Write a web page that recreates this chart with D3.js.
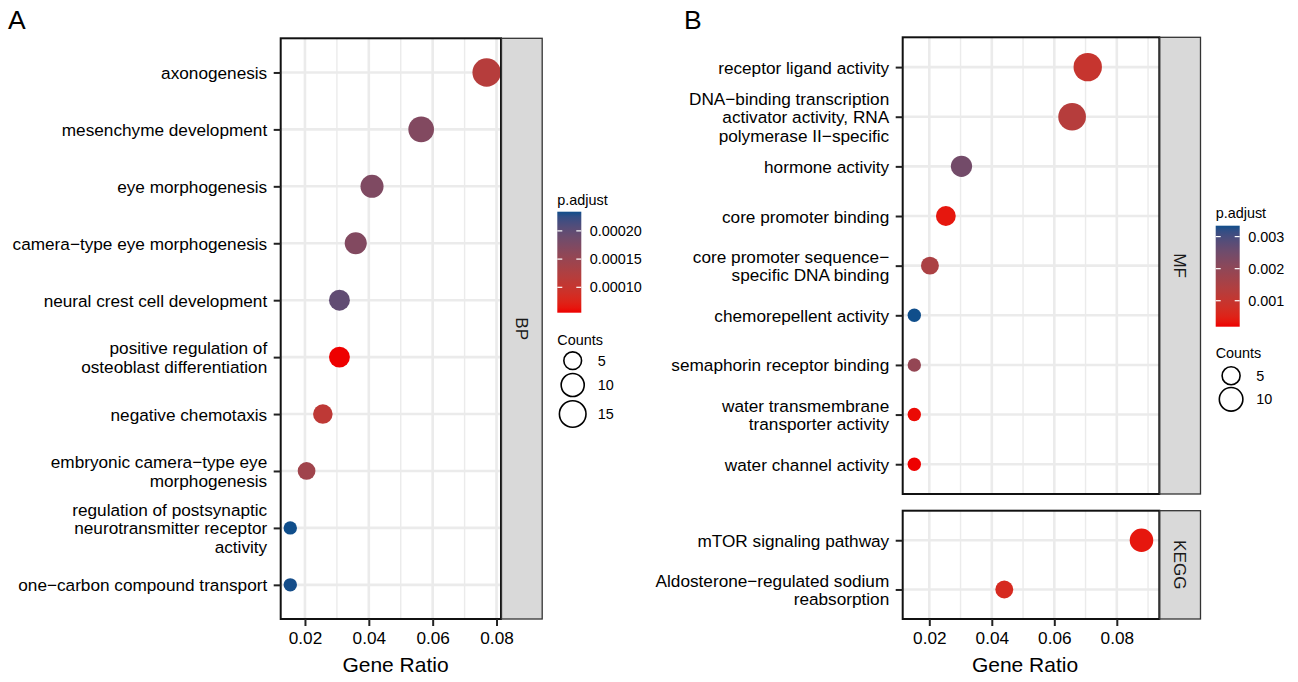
<!DOCTYPE html>
<html>
<head>
<meta charset="utf-8">
<script src="https://cdn.jsdelivr.net/npm/d3@7"></script>
<style>
  html, body { margin: 0; padding: 0; background: #fff; }
  svg { display: block; font-family: "Liberation Sans", Arial, Helvetica, sans-serif; }
</style>
</head>
<body>
<svg id="chart" width="1298" height="682"></svg>
<script>
// ---------------- DATA ----------------
const bpTerms = [
  "axonogenesis",
  "mesenchyme development",
  "eye morphogenesis",
  "camera\u2212type eye morphogenesis",
  "neural crest cell development",
  "positive regulation of\nosteoblast differentiation",
  "negative chemotaxis",
  "embryonic camera\u2212type eye\nmorphogenesis",
  "regulation of postsynaptic\nneurotransmitter receptor\nactivity",
  "one\u2212carbon compound transport"
];
const bpRatio  = [0.0769, 0.0564, 0.0410, 0.0359, 0.0308, 0.0308, 0.0256, 0.0205, 0.0154, 0.0154];
const bpCount  = [15, 11, 8, 7, 6, 6, 5, 4, 3, 3];
const bpPadj   = [0.000118, 0.000171, 0.000173, 0.000171, 0.000198, 0.000055, 0.000109, 0.000141, 0.000234, 0.000233];

const mfTerms = [
  "receptor ligand activity",
  "DNA\u2212binding transcription\nactivator activity, RNA\npolymerase II\u2212specific",
  "hormone activity",
  "core promoter binding",
  "core promoter sequence\u2212\nspecific DNA binding",
  "chemorepellent activity",
  "semaphorin receptor binding",
  "water transmembrane\ntransporter activity",
  "water channel activity"
];
const mfRatio = [0.0707, 0.0657, 0.0303, 0.0253, 0.0202, 0.0152, 0.0152, 0.0152, 0.0152];
const mfCount = [14, 13, 6, 5, 4, 3, 3, 3, 3];
const mfPadj  = [0.00098, 0.00129, 0.00246, 0.00035, 0.00151, 0.00334, 0.00192, 0.00025, 0.00019];

const keggTerms = [
  "mTOR signaling pathway",
  "Aldosterone\u2212regulated sodium\nreabsorption"
];
const keggRatio = [0.0879, 0.0440];
const keggCount = [8, 4];
const keggPadj  = [0.00035, 0.00066];

const xTicks = [0.02, 0.04, 0.06, 0.08];
const xMinorA = [0.03, 0.05, 0.07];
const xMinorB = [0.03, 0.05, 0.07, 0.09];
const legendPadjTicksA = [0.00010, 0.00015, 0.00020];
const legendPadjTicksB = [0.001, 0.002, 0.003];
const legendCountsA = [5, 10, 15];
const legendCountsB = [5, 10];

// ---------------- SETUP ----------------
const svg = d3.select("#chart");
const LOW = "#EE0000", HIGH = "#104E8B";
const GRID = "#ebebeb";
const FS = 17.2, LH = 18.5, LFS = 14.4;

function sizeScale(cmin, cmax) {
  const t = d3.scaleLinear().domain([cmin, cmax]).range([0, 1]);
  const r = d3.scaleLinear().domain([0, 1]).range([6.7, 14.2]);
  return c => r(Math.sqrt(Math.max(0, t(c))));
}

function drawPanel(g, terms, ratio, count, padj, x, y, minor, color, rScale, x0, x1, y0, y1, stripLabel) {
  g.selectAll(".gmin").data(minor.filter(v => x(v) > x0 && x(v) < x1)).join("line")
    .attr("x1", d => x(d)).attr("x2", d => x(d)).attr("y1", y0).attr("y2", y1)
    .attr("stroke", GRID).attr("stroke-width", 1.4);
  g.selectAll(".gmaj").data(xTicks.filter(v => x(v) > x0 && x(v) < x1)).join("line")
    .attr("x1", d => x(d)).attr("x2", d => x(d)).attr("y1", y0).attr("y2", y1)
    .attr("stroke", GRID).attr("stroke-width", 2.6);
  g.selectAll(".gy").data(terms).join("line")
    .attr("x1", x0).attr("x2", x1).attr("y1", d => y(d)).attr("y2", d => y(d))
    .attr("stroke", GRID).attr("stroke-width", 2.6);
  g.selectAll(".pt").data(terms.map((t, i) => ({t, r: ratio[i], c: count[i], p: padj[i]}))).join("circle")
    .attr("cx", d => x(d.r)).attr("cy", d => y(d.t)).attr("r", d => rScale(d.c))
    .attr("fill", d => color(d.p));
  g.append("rect").attr("x", x0).attr("y", y0).attr("width", x1 - x0).attr("height", y1 - y0)
    .attr("fill", "none").attr("stroke", "#111").attr("stroke-width", 2);
  const sw = 40.7;
  g.append("rect").attr("x", x1 + 0.5).attr("y", y0).attr("width", sw).attr("height", y1 - y0)
    .attr("fill", "#d9d9d9").attr("stroke", "#333").attr("stroke-width", 1.3);
  g.append("text").attr("transform", `translate(${x1 + 0.5 + sw / 2},${(y0 + y1) / 2}) rotate(90)`)
    .attr("text-anchor", "middle").attr("dy", "0.35em").attr("font-size", FS).attr("fill", "#1a1a1a")
    .text(stripLabel);
  const ax = g.append("g").attr("transform", `translate(${x0},0)`)
    .call(d3.axisLeft(y).tickSize(7).tickPadding(5));
  ax.select(".domain").remove();
  ax.selectAll(".tick line").attr("stroke", "#222").attr("stroke-width", 2);
  ax.selectAll(".tick text").each(function(d) {
    const el = d3.select(this);
    const lines = d.split("\n");
    el.text(null).attr("font-size", FS).attr("fill", "#000").attr("font-family", null).attr("dy", null);
    lines.forEach((ln, i) => {
      el.append("tspan").attr("x", -13.5).attr("y", (i - (lines.length - 1) / 2) * LH)
        .attr("dy", "0.35em").text(ln);
    });
  });
}

function drawXAxis(g, x, y1, titleX) {
  const ax = g.append("g").attr("transform", `translate(0,${y1})`)
    .call(d3.axisBottom(x).tickValues(xTicks).tickFormat(d3.format(".2f")).tickSize(7).tickPadding(6));
  ax.select(".domain").remove();
  ax.selectAll(".tick line").attr("stroke", "#222").attr("stroke-width", 2);
  ax.selectAll(".tick text").attr("font-size", FS).attr("fill", "#000").attr("font-family", null);
  g.append("text").attr("x", titleX).attr("y", 672).attr("text-anchor", "middle")
    .attr("font-size", 21).attr("fill", "#000").text("Gene Ratio");
}

function drawLegend(g, color, ticks, fmt, counts, rScale, lx, titleY, barTop, barH, countTitleY, circleYs, idSuffix) {
  const [dmin, dmax] = color.domain();
  const grad = svg.append("defs").append("linearGradient").attr("id", "grad" + idSuffix)
    .attr("x1", 0).attr("y1", 1).attr("x2", 0).attr("y2", 0);
  d3.range(0, 1.0001, 0.05).forEach(t => {
    grad.append("stop").attr("offset", t).attr("stop-color", color(dmin + t * (dmax - dmin)));
  });
  g.append("text").attr("x", lx).attr("y", titleY).attr("font-size", LFS).attr("fill", "#000").text("p.adjust");
  const bw = 24;
  g.append("rect").attr("x", lx).attr("y", barTop).attr("width", bw).attr("height", barH)
    .attr("fill", `url(#grad${idSuffix})`);
  const ly = d3.scaleLinear().domain([dmin, dmax]).range([barTop + barH, barTop]);
  ticks.forEach(v => {
    g.append("line").attr("x1", lx).attr("x2", lx + 5).attr("y1", ly(v)).attr("y2", ly(v))
      .attr("stroke", "#fff").attr("stroke-width", 1.2);
    g.append("line").attr("x1", lx + bw - 5).attr("x2", lx + bw).attr("y1", ly(v)).attr("y2", ly(v))
      .attr("stroke", "#fff").attr("stroke-width", 1.2);
    g.append("text").attr("x", lx + bw + 8.5).attr("y", ly(v)).attr("dy", "0.35em")
      .attr("font-size", LFS).attr("fill", "#000").text(fmt(v));
  });
  g.append("text").attr("x", lx).attr("y", countTitleY).attr("font-size", LFS).attr("fill", "#000").text("Counts");
  counts.forEach((c, i) => {
    g.append("circle").attr("cx", lx + 15.4).attr("cy", circleYs[i]).attr("r", rScale(c) - 0.9)
      .attr("fill", "#fff").attr("stroke", "#000").attr("stroke-width", 1.6);
    g.append("text").attr("x", lx + 40.5).attr("y", circleYs[i]).attr("dy", "0.35em")
      .attr("font-size", LFS).attr("fill", "#000").text(c);
  });
}

// ---------------- PANEL A ----------------
const gA = svg.append("g");
const xA = d3.scaleLinear().domain([0.0124, 0.0814]).range([280.7, 501]);
const yA = d3.scalePoint().domain(bpTerms).range([38.3, 619]).padding(0.6);
const colA = d3.scaleLinear().domain([0.000055, 0.000234]).range([LOW, HIGH]).interpolate(d3.interpolateLab);
const rA = sizeScale(d3.min(bpCount), d3.max(bpCount));
drawPanel(gA, bpTerms, bpRatio, bpCount, bpPadj, xA, yA, xMinorA, colA, rA, 280.7, 501, 38.3, 619, "BP");
drawXAxis(gA, xA, 619, 395.5);
drawLegend(gA, colA, legendPadjTicksA, d3.format(".5f"), legendCountsA, rA,
  557.3, 205, 211.7, 101, 345, [360.7, 385, 414], "A");
svg.append("text").attr("x", 8).attr("y", 29).attr("font-size", 26.5).attr("fill", "#000").text("A");

// ---------------- PANEL B ----------------
const gB = svg.append("g");
const xB = d3.scaleLinear().domain([0.01149, 0.0936]).range([902.7, 1159.3]);
const yMF = d3.scalePoint().domain(mfTerms).range([37.3, 494]).padding(0.6);
const yKG = d3.scalePoint().domain(keggTerms).range([510.7, 619]).padding(0.6);
const allPadjB = mfPadj.concat(keggPadj);
const colB = d3.scaleLinear().domain([d3.min(allPadjB), d3.max(allPadjB)]).range([LOW, HIGH]).interpolate(d3.interpolateLab);
const allCountB = mfCount.concat(keggCount);
const rB = sizeScale(d3.min(allCountB), d3.max(allCountB));
drawPanel(gB, mfTerms, mfRatio, mfCount, mfPadj, xB, yMF, xMinorB, colB, rB, 902.7, 1159.3, 37.3, 494, "MF");
drawPanel(gB, keggTerms, keggRatio, keggCount, keggPadj, xB, yKG, xMinorB, colB, rB, 902.7, 1159.3, 510.7, 619, "KEGG");
drawXAxis(gB, xB, 619, 1025);
drawLegend(gB, colB, legendPadjTicksB, d3.format(".3f"), legendCountsB, rB,
  1215.7, 218, 225.7, 101, 358, [375.7, 399.3], "B");
svg.append("text").attr("x", 684).attr("y", 29).attr("font-size", 26.5).attr("fill", "#000").text("B");
</script>
</body>
</html>
